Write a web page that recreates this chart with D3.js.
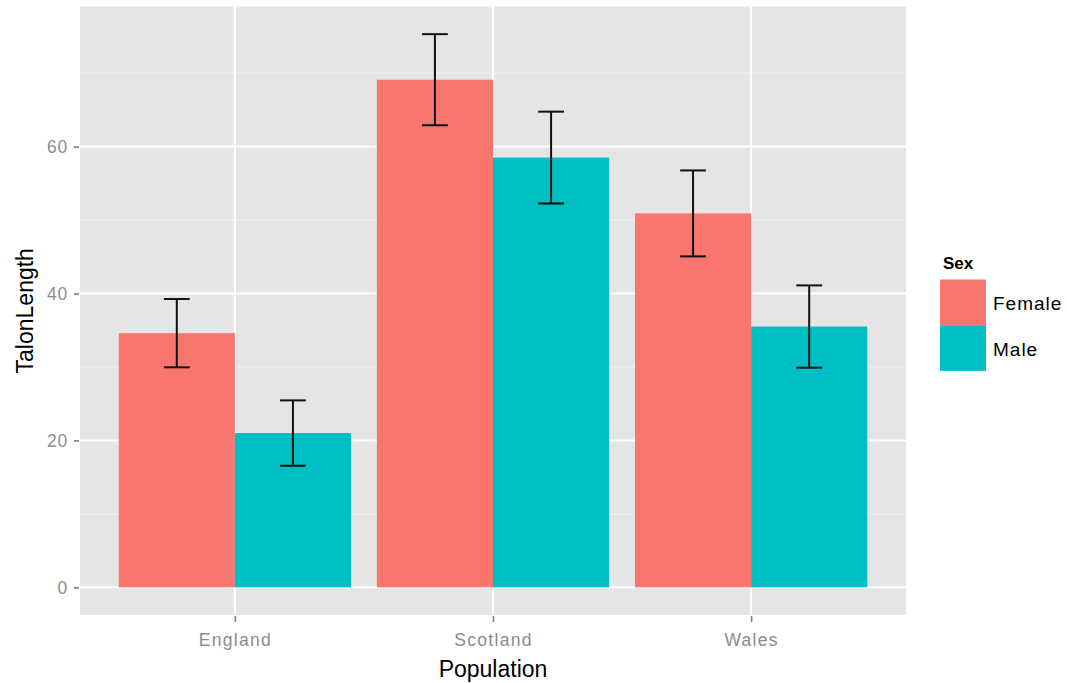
<!DOCTYPE html>
<html>
<head>
<meta charset="utf-8">
<script src="https://cdn.jsdelivr.net/npm/d3@7/dist/d3.min.js"></script>
<style>
  html, body { margin: 0; padding: 0; background: #ffffff; }
  svg { display: block; font-family: "Liberation Sans", Arial, sans-serif; }
</style>
</head>
<body>
<svg id="chart" width="1067" height="683"></svg>
<script>
// Mean talon length by population and sex, with standard errors
const populations = ["England", "Scotland", "Wales"];
const sexes = ["Female", "Male"];
const femaleMean = [34.6, 69.1, 50.9];
const femaleSE   = [4.65, 6.2, 5.85];
const maleMean   = [21.0, 58.5, 35.5];
const maleSE     = [4.45, 6.25, 5.6];
const yTicks = [0, 20, 40, 60];
const yMinorTicks = [10, 30, 50, 70];
const sexColors = ["#F8766D", "#00BFC4"];

const rows = [];
populations.forEach((p, i) => {
  rows.push({ pop: p, sex: "Female", mean: femaleMean[i], se: femaleSE[i] });
  rows.push({ pop: p, sex: "Male", mean: maleMean[i], se: maleSE[i] });
});

const svg = d3.select("#chart");
const panel = { left: 80, right: 906, top: 6.5, bottom: 615 };

// Discrete x positions 1..n with 0.6 padding on each side
const xPos = d3.scaleLinear()
  .domain([0.4, populations.length + 0.6])
  .range([panel.left, panel.right]);

const yMax = d3.max(rows, d => d.mean + d.se);
const pad = yMax * 0.05;
const y = d3.scaleLinear()
  .domain([-pad, yMax + pad])
  .range([panel.bottom, panel.top]);

const color = d3.scaleOrdinal().domain(sexes).range(sexColors);

// Panel background
svg.append("rect")
  .attr("x", panel.left).attr("y", panel.top)
  .attr("width", panel.right - panel.left)
  .attr("height", panel.bottom - panel.top)
  .attr("fill", "#E5E5E5");

// Grid lines
const grid = svg.append("g");
grid.selectAll("line.minor").data(yMinorTicks).join("line")
  .attr("x1", panel.left).attr("x2", panel.right)
  .attr("y1", d => y(d)).attr("y2", d => y(d))
  .attr("stroke", "#F2F2F2").attr("stroke-width", 1);
grid.selectAll("line.majorY").data(yTicks).join("line")
  .attr("x1", panel.left).attr("x2", panel.right)
  .attr("y1", d => y(d)).attr("y2", d => y(d))
  .attr("stroke", "#FFFFFF").attr("stroke-width", 2);
grid.selectAll("line.majorX").data(populations).join("line")
  .attr("x1", (d, i) => xPos(i + 1)).attr("x2", (d, i) => xPos(i + 1))
  .attr("y1", panel.top).attr("y2", panel.bottom)
  .attr("stroke", "#FFFFFF").attr("stroke-width", 2);

// Dodged bars
const barWidth = 0.9;
const sub = barWidth / sexes.length;
const xCenter = d => {
  const i = populations.indexOf(d.pop) + 1;
  const j = sexes.indexOf(d.sex);
  return i - barWidth / 2 + sub * (j + 0.5);
};

svg.append("g").selectAll("rect").data(rows).join("rect")
  .attr("x", d => xPos(xCenter(d) - sub / 2))
  .attr("width", d => xPos(xCenter(d) + sub / 2) - xPos(xCenter(d) - sub / 2))
  .attr("y", d => y(d.mean))
  .attr("height", d => y(0) - y(d.mean))
  .attr("fill", d => color(d.sex));

// Error bars
const capHalf = 0.05;
const eb = svg.append("g").attr("stroke", "#111111").attr("stroke-width", 2).attr("fill", "none");
rows.forEach(d => {
  const cx = xPos(xCenter(d));
  const x0 = xPos(xCenter(d) - capHalf), x1 = xPos(xCenter(d) + capHalf);
  const yt = y(d.mean + d.se), yb = y(d.mean - d.se);
  eb.append("line").attr("x1", cx).attr("x2", cx).attr("y1", yt).attr("y2", yb);
  eb.append("line").attr("x1", x0).attr("x2", x1).attr("y1", yt).attr("y2", yt);
  eb.append("line").attr("x1", x0).attr("x2", x1).attr("y1", yb).attr("y2", yb);
});

// Y axis
const yAxis = d3.axisLeft(y).tickValues(yTicks).tickSize(5).tickPadding(6);
const gy = svg.append("g").attr("transform", `translate(${panel.left - 1},0)`).call(yAxis);
gy.select(".domain").remove();
gy.selectAll(".tick line").attr("stroke", "#7F7F7F").attr("stroke-width", 1.6);
gy.selectAll(".tick text").attr("fill", "#8C8C8C").attr("font-size", 17.5)
  .attr("letter-spacing", 0.8).attr("dy", "0.36em");

// X axis
const xAxis = d3.axisBottom(xPos).tickValues(populations.map((d, i) => i + 1))
  .tickFormat((d) => populations[d - 1]).tickSize(6).tickPadding(12);
const gx = svg.append("g").attr("transform", `translate(0,${panel.bottom + 1})`).call(xAxis);
gx.select(".domain").remove();
gx.selectAll(".tick line").attr("stroke", "#7F7F7F").attr("stroke-width", 1.6);
gx.selectAll(".tick text").attr("fill", "#8C8C8C").attr("font-size", 17.5)
  .attr("letter-spacing", 1.3);

// Axis titles
svg.append("text")
  .attr("x", (panel.left + panel.right) / 2).attr("y", 677)
  .attr("text-anchor", "middle").attr("font-size", 23).attr("fill", "#000")
  .text("Population");
svg.append("text")
  .attr("transform", `translate(33,${(panel.top + panel.bottom) / 2}) rotate(-90)`)
  .attr("text-anchor", "middle").attr("font-size", 23).attr("fill", "#000")
  .text("TalonLength");

// Legend
const legend = svg.append("g").attr("transform", "translate(940,279.5)");
legend.append("text").attr("x", 3).attr("y", -10.5)
  .attr("font-size", 17).attr("font-weight", "bold").attr("fill", "#000")
  .text("Sex");
const keyH = 45.7, keyW = 46;
sexes.forEach((s, i) => {
  legend.append("rect")
    .attr("x", 0).attr("y", i * keyH)
    .attr("width", keyW).attr("height", keyH)
    .attr("fill", color(s));
  legend.append("text")
    .attr("x", 53).attr("y", i * keyH + keyH / 2 + 7.5)
    .attr("font-size", 19).attr("fill", "#000").attr("letter-spacing", 1)
    .text(s);
});
</script>
</body>
</html>
